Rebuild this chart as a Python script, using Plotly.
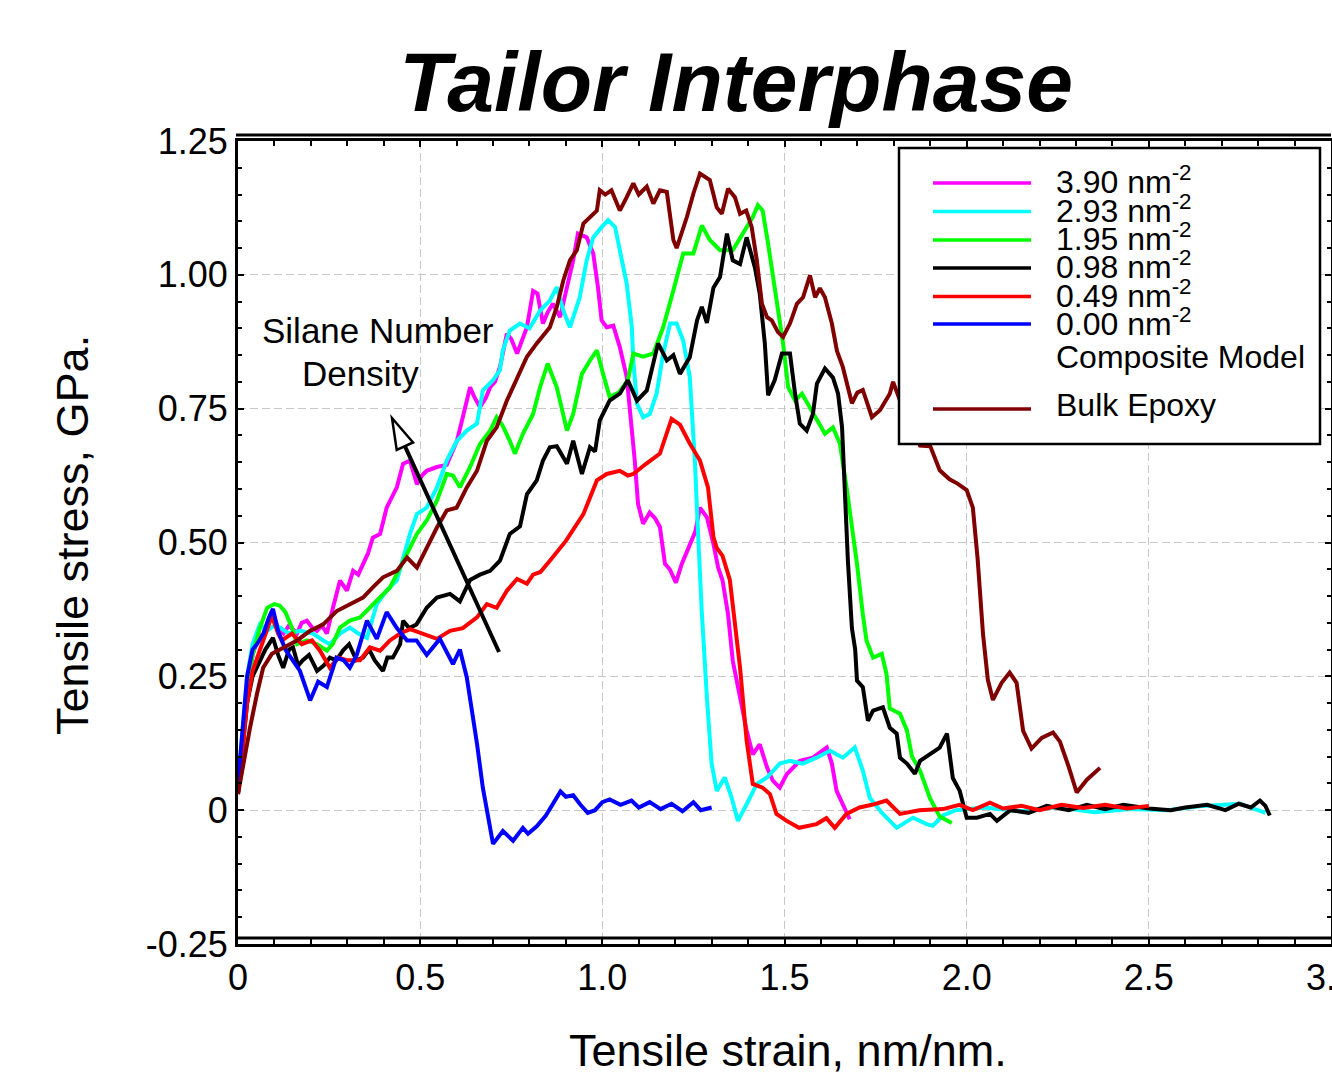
import math
import plotly.graph_objects as go

# ---------------- data ----------------
series_names = ["3.90 nm<sup>-2</sup>", "2.93 nm<sup>-2</sup>", "1.95 nm<sup>-2</sup>",
                "0.98 nm<sup>-2</sup>", "0.49 nm<sup>-2</sup>", "0.00 nm<sup>-2</sup>",
                "Composite Model", "Bulk Epoxy"]

mag_x = [0, 0.012, 0.025, 0.04, 0.055, 0.07, 0.093, 0.11, 0.125, 0.14, 0.162, 0.175, 0.189, 0.205, 0.217, 0.23, 0.244, 0.261, 0.28, 0.299, 0.316, 0.33, 0.343, 0.357, 0.37, 0.39, 0.408, 0.42, 0.436, 0.453, 0.472, 0.491, 0.505, 0.518, 0.546, 0.573, 0.601, 0.617, 0.637, 0.65, 0.664, 0.68, 0.692, 0.705, 0.719, 0.738, 0.75, 0.766, 0.78, 0.793, 0.81, 0.822, 0.837, 0.85, 0.864, 0.884, 0.903, 0.92, 0.933, 0.957, 0.975, 0.988, 0.998, 1.012, 1.03, 1.048, 1.067, 1.081, 1.089, 1.098, 1.112, 1.13, 1.145, 1.158, 1.172, 1.185, 1.202, 1.218, 1.24, 1.255, 1.268, 1.287, 1.305, 1.318, 1.33, 1.345, 1.358, 1.378, 1.396, 1.413, 1.432, 1.452, 1.468, 1.487, 1.506, 1.542, 1.578, 1.616, 1.63, 1.643, 1.666, 1.679]
mag_y = [0.04, 0.13, 0.22, 0.29, 0.32, 0.33, 0.372, 0.34, 0.33, 0.345, 0.33, 0.35, 0.354, 0.34, 0.335, 0.345, 0.33, 0.379, 0.429, 0.41, 0.447, 0.44, 0.46, 0.48, 0.509, 0.516, 0.565, 0.58, 0.603, 0.647, 0.653, 0.609, 0.625, 0.634, 0.641, 0.645, 0.69, 0.734, 0.79, 0.77, 0.753, 0.77, 0.79, 0.8, 0.828, 0.89, 0.88, 0.853, 0.88, 0.902, 0.97, 0.965, 0.909, 0.93, 0.946, 0.921, 0.977, 1.027, 1.077, 1.07, 1.04, 0.977, 0.915, 0.902, 0.905, 0.865, 0.809, 0.715, 0.653, 0.572, 0.535, 0.556, 0.545, 0.529, 0.46, 0.45, 0.425, 0.46, 0.497, 0.52, 0.565, 0.547, 0.497, 0.453, 0.429, 0.366, 0.279, 0.21, 0.149, 0.104, 0.123, 0.08, 0.055, 0.042, 0.067, 0.092, 0.098, 0.117, 0.087, 0.036, 0.004, -0.017]

cya_x = [0, 0.012, 0.025, 0.04, 0.06, 0.08, 0.1, 0.115, 0.14, 0.17, 0.206, 0.234, 0.252, 0.28, 0.307, 0.33, 0.354, 0.381, 0.408, 0.436, 0.453, 0.472, 0.491, 0.518, 0.546, 0.573, 0.601, 0.628, 0.656, 0.672, 0.7, 0.719, 0.727, 0.746, 0.774, 0.8, 0.829, 0.856, 0.875, 0.893, 0.911, 0.938, 0.957, 0.975, 0.998, 1.016, 1.035, 1.048, 1.067, 1.081, 1.085, 1.095, 1.112, 1.13, 1.149, 1.167, 1.186, 1.204, 1.222, 1.24, 1.254, 1.262, 1.273, 1.287, 1.3, 1.314, 1.336, 1.355, 1.372, 1.396, 1.424, 1.452, 1.487, 1.515, 1.55, 1.588, 1.625, 1.66, 1.693, 1.715, 1.734, 1.77, 1.808, 1.853, 1.89, 1.907, 1.935, 1.97, 2.05, 2.15, 2.25, 2.35, 2.45, 2.55, 2.65, 2.75, 2.82]
cya_y = [0.05, 0.15, 0.25, 0.31, 0.347, 0.335, 0.345, 0.341, 0.33, 0.335, 0.33, 0.317, 0.31, 0.33, 0.341, 0.33, 0.322, 0.385, 0.41, 0.429, 0.472, 0.516, 0.553, 0.565, 0.603, 0.653, 0.69, 0.709, 0.722, 0.784, 0.803, 0.822, 0.859, 0.896, 0.909, 0.9, 0.933, 0.952, 0.977, 0.933, 0.902, 0.958, 1.027, 1.07, 1.089, 1.102, 1.089, 1.046, 0.983, 0.902, 0.84, 0.759, 0.734, 0.74, 0.778, 0.853, 0.909, 0.909, 0.877, 0.809, 0.653, 0.528, 0.37, 0.21, 0.087, 0.036, 0.061, 0.023, -0.02, 0.011, 0.049, 0.061, 0.087, 0.092, 0.087, 0.098, 0.111, 0.098, 0.117, 0.074, 0.023, -0.007, -0.033, -0.014, -0.026, -0.029, -0.01, 0.0, 0.005, -0.002, 0.006, -0.004, 0.002, 0.0, 0.008, 0.012, -0.005]

grn_x = [0, 0.012, 0.025, 0.04, 0.06, 0.08, 0.1, 0.115, 0.13, 0.148, 0.162, 0.189, 0.217, 0.244, 0.26, 0.28, 0.307, 0.335, 0.362, 0.39, 0.417, 0.445, 0.464, 0.491, 0.518, 0.546, 0.573, 0.59, 0.609, 0.637, 0.664, 0.692, 0.71, 0.725, 0.746, 0.76, 0.782, 0.81, 0.829, 0.85, 0.875, 0.903, 0.92, 0.944, 0.966, 0.985, 1.002, 1.02, 1.045, 1.07, 1.085, 1.112, 1.14, 1.167, 1.195, 1.222, 1.25, 1.273, 1.295, 1.323, 1.358, 1.386, 1.413, 1.427, 1.44, 1.455, 1.468, 1.482, 1.496, 1.51, 1.529, 1.548, 1.57, 1.592, 1.611, 1.633, 1.652, 1.671, 1.688, 1.699, 1.715, 1.725, 1.743, 1.767, 1.78, 1.789, 1.817, 1.836, 1.85, 1.872, 1.899, 1.926, 1.959]
grn_y = [0.04, 0.13, 0.22, 0.29, 0.34, 0.378, 0.385, 0.382, 0.37, 0.341, 0.31, 0.317, 0.31, 0.298, 0.31, 0.341, 0.354, 0.36, 0.378, 0.397, 0.416, 0.453, 0.478, 0.516, 0.541, 0.578, 0.628, 0.625, 0.603, 0.641, 0.684, 0.709, 0.734, 0.72, 0.69, 0.666, 0.703, 0.74, 0.79, 0.834, 0.79, 0.709, 0.74, 0.815, 0.84, 0.859, 0.815, 0.772, 0.78, 0.803, 0.853, 0.847, 0.853, 0.902, 0.971, 1.04, 1.04, 1.092, 1.065, 1.046, 1.046, 1.077, 1.108, 1.13, 1.12, 1.058, 0.996, 0.933, 0.872, 0.79, 0.765, 0.778, 0.753, 0.728, 0.703, 0.715, 0.685, 0.6, 0.52, 0.46, 0.366, 0.317, 0.285, 0.292, 0.254, 0.19, 0.18, 0.149, 0.1, 0.074, 0.023, -0.012, -0.024]

blk_x = [0, 0.012, 0.025, 0.04, 0.06, 0.075, 0.096, 0.11, 0.124, 0.14, 0.151, 0.165, 0.178, 0.195, 0.217, 0.235, 0.252, 0.27, 0.288, 0.305, 0.325, 0.343, 0.36, 0.375, 0.398, 0.41, 0.425, 0.445, 0.453, 0.47, 0.49, 0.518, 0.546, 0.582, 0.609, 0.637, 0.664, 0.692, 0.719, 0.746, 0.774, 0.793, 0.82, 0.837, 0.856, 0.875, 0.903, 0.92, 0.944, 0.966, 0.98, 0.993, 1.02, 1.048, 1.07, 1.095, 1.122, 1.153, 1.177, 1.195, 1.213, 1.24, 1.26, 1.273, 1.287, 1.305, 1.323, 1.342, 1.358, 1.378, 1.396, 1.419, 1.432, 1.446, 1.455, 1.473, 1.493, 1.515, 1.529, 1.542, 1.561, 1.578, 1.589, 1.611, 1.633, 1.647, 1.658, 1.666, 1.674, 1.685, 1.694, 1.699, 1.715, 1.729, 1.743, 1.77, 1.789, 1.808, 1.817, 1.836, 1.858, 1.872, 1.899, 1.926, 1.946, 1.962, 1.981, 2.0, 2.028, 2.064, 2.083, 2.12, 2.17, 2.22, 2.28, 2.33, 2.38, 2.43, 2.5, 2.56, 2.6, 2.66, 2.71, 2.747, 2.78, 2.805, 2.82, 2.832]
blk_y = [0.03, 0.11, 0.2, 0.25, 0.28, 0.3, 0.322, 0.29, 0.266, 0.3, 0.304, 0.27, 0.28, 0.29, 0.26, 0.27, 0.285, 0.28, 0.298, 0.31, 0.28, 0.285, 0.3, 0.28, 0.26, 0.285, 0.285, 0.31, 0.354, 0.34, 0.347, 0.378, 0.397, 0.404, 0.39, 0.43, 0.44, 0.447, 0.466, 0.516, 0.53, 0.59, 0.616, 0.653, 0.678, 0.68, 0.647, 0.69, 0.628, 0.678, 0.67, 0.728, 0.765, 0.778, 0.803, 0.765, 0.784, 0.872, 0.84, 0.85, 0.815, 0.846, 0.915, 0.94, 0.91, 0.976, 0.996, 1.077, 1.027, 1.02, 1.07, 1.013, 0.965, 0.872, 0.775, 0.803, 0.853, 0.853, 0.778, 0.722, 0.709, 0.74, 0.797, 0.825, 0.808, 0.778, 0.715, 0.59, 0.466, 0.34, 0.3, 0.242, 0.23, 0.167, 0.186, 0.192, 0.154, 0.143, 0.098, 0.087, 0.068, 0.092, 0.104, 0.117, 0.143, 0.06, 0.036, -0.014, -0.014, -0.007, -0.02, 0.0, -0.005, 0.008, 0.0, 0.01, 0.002, 0.01, 0.003, 0.0, 0.005, 0.01, 0.0, 0.012, 0.005, 0.018, 0.008, -0.01]

red_x = [0, 0.012, 0.025, 0.04, 0.06, 0.075, 0.093, 0.11, 0.12, 0.148, 0.175, 0.203, 0.225, 0.252, 0.275, 0.298, 0.335, 0.362, 0.39, 0.417, 0.445, 0.472, 0.508, 0.546, 0.582, 0.617, 0.656, 0.683, 0.71, 0.738, 0.766, 0.793, 0.81, 0.83, 0.856, 0.9, 0.948, 0.985, 1.012, 1.048, 1.07, 1.085, 1.12, 1.158, 1.19, 1.213, 1.24, 1.268, 1.29, 1.305, 1.314, 1.33, 1.35, 1.378, 1.396, 1.413, 1.44, 1.46, 1.478, 1.506, 1.54, 1.588, 1.615, 1.638, 1.67, 1.706, 1.74, 1.78, 1.817, 1.87, 1.935, 1.98, 2.017, 2.064, 2.1, 2.15, 2.2, 2.26, 2.32, 2.38, 2.44, 2.5]
red_y = [0.03, 0.12, 0.2, 0.26, 0.3, 0.33, 0.363, 0.33, 0.317, 0.33, 0.31, 0.317, 0.298, 0.266, 0.285, 0.28, 0.28, 0.304, 0.298, 0.317, 0.33, 0.338, 0.33, 0.32, 0.335, 0.34, 0.36, 0.385, 0.378, 0.41, 0.432, 0.423, 0.44, 0.445, 0.466, 0.503, 0.553, 0.616, 0.628, 0.634, 0.625, 0.628, 0.647, 0.666, 0.731, 0.72, 0.685, 0.653, 0.603, 0.51, 0.49, 0.475, 0.43, 0.266, 0.13, 0.049, 0.042, 0.03, -0.007, -0.02, -0.033, -0.026, -0.015, -0.033, -0.007, 0.005, 0.01, 0.018, -0.007, 0.0, 0.002, 0.01, 0.0, 0.014, 0.003, 0.008, 0.0, 0.01, 0.004, 0.01, 0.003, 0.008]

blu_x = [0, 0.012, 0.025, 0.04, 0.052, 0.07, 0.085, 0.096, 0.11, 0.13, 0.15, 0.17, 0.198, 0.22, 0.244, 0.27, 0.29, 0.307, 0.326, 0.354, 0.381, 0.408, 0.436, 0.464, 0.49, 0.518, 0.554, 0.59, 0.609, 0.628, 0.656, 0.672, 0.7, 0.727, 0.755, 0.782, 0.796, 0.82, 0.845, 0.87, 0.885, 0.9, 0.92, 0.94, 0.96, 0.98, 1.0, 1.02, 1.05, 1.08, 1.1, 1.13, 1.16, 1.19, 1.22, 1.25, 1.27, 1.3]
blu_y = [0.05, 0.15, 0.25, 0.3, 0.31, 0.33, 0.36, 0.376, 0.335, 0.3, 0.28, 0.26, 0.205, 0.24, 0.23, 0.285, 0.28, 0.266, 0.29, 0.354, 0.32, 0.37, 0.34, 0.317, 0.317, 0.29, 0.32, 0.273, 0.3, 0.248, 0.124, 0.042, -0.063, -0.039, -0.057, -0.033, -0.044, -0.03, -0.01, 0.02, 0.035, 0.025, 0.028, 0.01, -0.005, 0.0, 0.015, 0.02, 0.01, 0.018, 0.005, 0.015, 0.002, 0.012, -0.002, 0.015, 0.0, 0.005]

bulk_x = [0, 0.015, 0.033, 0.052, 0.069, 0.093, 0.124, 0.162, 0.198, 0.234, 0.271, 0.307, 0.343, 0.37, 0.398, 0.436, 0.464, 0.491, 0.518, 0.546, 0.573, 0.6, 0.628, 0.656, 0.683, 0.71, 0.738, 0.766, 0.793, 0.82, 0.856, 0.875, 0.893, 0.911, 0.93, 0.948, 0.966, 0.985, 0.993, 1.008, 1.025, 1.048, 1.067, 1.085, 1.1, 1.122, 1.14, 1.158, 1.177, 1.195, 1.204, 1.232, 1.25, 1.268, 1.295, 1.314, 1.328, 1.345, 1.364, 1.378, 1.395, 1.41, 1.424, 1.438, 1.452, 1.465, 1.482, 1.496, 1.515, 1.534, 1.551, 1.57, 1.584, 1.597, 1.611, 1.63, 1.644, 1.66, 1.685, 1.7, 1.715, 1.74, 1.762, 1.789, 1.798, 1.82, 1.84, 1.86, 1.872, 1.9, 1.926, 1.953, 1.975, 2.0, 2.017, 2.03, 2.045, 2.058, 2.072, 2.096, 2.118, 2.137, 2.155, 2.178, 2.206, 2.237, 2.256, 2.279, 2.302, 2.33, 2.366]
bulk_y = [0.03, 0.09, 0.154, 0.217, 0.266, 0.292, 0.304, 0.317, 0.335, 0.347, 0.372, 0.385, 0.397, 0.416, 0.435, 0.447, 0.472, 0.453, 0.49, 0.528, 0.56, 0.565, 0.603, 0.634, 0.69, 0.715, 0.765, 0.809, 0.847, 0.872, 0.902, 0.94, 0.99, 1.027, 1.046, 1.096, 1.108, 1.12, 1.158, 1.15, 1.158, 1.12, 1.145, 1.171, 1.15, 1.165, 1.133, 1.158, 1.155, 1.065, 1.05, 1.108, 1.152, 1.189, 1.177, 1.126, 1.114, 1.161, 1.145, 1.114, 1.12, 1.089, 1.027, 0.946, 0.921, 0.915, 0.893, 0.884, 0.909, 0.946, 0.958, 0.999, 0.958, 0.975, 0.958, 0.909, 0.858, 0.828, 0.76, 0.78, 0.785, 0.734, 0.747, 0.778, 0.8, 0.76, 0.74, 0.7, 0.681, 0.68, 0.635, 0.618, 0.61, 0.598, 0.565, 0.47, 0.328, 0.244, 0.206, 0.238, 0.257, 0.238, 0.148, 0.115, 0.135, 0.145, 0.128, 0.083, 0.033, 0.057, 0.079]

colors = ["#FF00FF", "#00FFFF", "#00FF00", "#000000", "#FF0000", "#0000FF", None, "#800000"]

x_ticks = [0, 0.5, 1.0, 1.5, 2.0, 2.5, 3.0]
x_ticktext = ["0", "0.5", "1.0", "1.5", "2.0", "2.5", "3.0"]
y_ticks = [-0.25, 0, 0.25, 0.5, 0.75, 1.0, 1.25]
y_ticktext = ["-0.25", "0", "0.25", "0.50", "0.75", "1.00", "1.25"]

# ---------------- layout geometry (pixels) ----------------
FW, FH = 1332, 1081
L, R, T, B = 238, 1331, 141, 944
PW, PH = R - L, B - T
FONT = "Liberation Sans, Arial, sans-serif"


def px(x):
    return (x - L) / PW


def py(y):
    return (B - y) / PH


fig = go.Figure()
data = [(mag_x, mag_y), (cya_x, cya_y), (grn_x, grn_y), (blk_x, blk_y),
        (red_x, red_y), (blu_x, blu_y), None, (bulk_x, bulk_y)]
for name, d, c in zip(series_names, data, colors):
    if d is None:
        continue
    fig.add_trace(go.Scatter(x=d[0], y=d[1], mode="lines", name=name,
                             line=dict(color=c, width=4), showlegend=False,
                             hoverinfo="skip"))

shapes = []
annotations = []

# extra frame lines (double border look)
shapes.append(dict(type="line", xref="paper", yref="paper", x0=0, x1=1,
                   y0=py(938), y1=py(938), line=dict(color="black", width=3)))
shapes.append(dict(type="line", xref="paper", yref="paper", x0=px(236), x1=1,
                   y0=py(135), y1=py(135), line=dict(color="black", width=3)))

# arrow (Silane Number Density)
tail = (499, 652)
tip = (392, 418)
dx, dy = tip[0] - tail[0], tip[1] - tail[1]
ln = math.hypot(dx, dy)
ux, uy = dx / ln, dy / ln
nx, ny = -uy, ux
hl, hw = 31, 9
bx, by = tip[0] - hl * ux, tip[1] - hl * uy
shapes.append(dict(type="line", xref="paper", yref="paper",
                   x0=px(tail[0]), y0=py(tail[1]), x1=px(bx), y1=py(by),
                   line=dict(color="black", width=4)))
c1 = (bx + hw * nx, by + hw * ny)
c2 = (bx - hw * nx, by - hw * ny)
path = "M {} {} L {} {} L {} {} Z".format(px(tip[0]), py(tip[1]), px(c1[0]), py(c1[1]),
                                          px(c2[0]), py(c2[1]))
shapes.append(dict(type="path", xref="paper", yref="paper", path=path,
                   fillcolor="white", line=dict(color="black", width=2.5)))

annotations.append(dict(text="Silane Number", x=px(378), y=py(331), xref="paper", yref="paper",
                        showarrow=False, xanchor="center", yanchor="middle",
                        font=dict(family=FONT, size=35, color="black")))
annotations.append(dict(text="Density", x=px(360), y=py(373), xref="paper", yref="paper",
                        showarrow=False, xanchor="center", yanchor="middle",
                        font=dict(family=FONT, size=35, color="black")))

# legend box drawn by hand
shapes.append(dict(type="rect", xref="paper", yref="paper", x0=px(899), x1=px(1320),
                   y0=py(444), y1=py(148), fillcolor="white",
                   line=dict(color="black", width=2.5), layer="above"))
line_ys = [183, 211.5, 240, 268, 296.5, 324, None, 409]
text_ys = [180, 208.5, 237, 265, 293.5, 322, 357, 405]
for name, c, ly, ty in zip(series_names, colors, line_ys, text_ys):
    if ly is not None:
        shapes.append(dict(type="line", xref="paper", yref="paper", x0=px(933), x1=px(1031),
                           y0=py(ly), y1=py(ly), line=dict(color=c, width=3.5), layer="above"))
    annotations.append(dict(text=name, x=px(1054), y=py(ty), xref="paper", yref="paper",
                            showarrow=False, xanchor="left", yanchor="middle",
                            font=dict(family=FONT, size=32, color="black")))

# axis titles
annotations.append(dict(text="Tensile strain, nm/nm.", x=px(788), y=py(1050),
                        xref="paper", yref="paper", showarrow=False,
                        xanchor="center", yanchor="middle",
                        font=dict(family=FONT, size=45, color="black")))
annotations.append(dict(text="Tensile stress, GPa.", x=px(72), y=py(535),
                        xref="paper", yref="paper", showarrow=False, textangle=-90,
                        xanchor="center", yanchor="middle",
                        font=dict(family=FONT, size=45, color="black")))

axis_common = dict(showline=True, linecolor="black", linewidth=3, mirror="allticks",
                   ticks="inside", ticklen=6, tickwidth=2, tickcolor="black",
                   showgrid=True, gridcolor="#c8c8c8", gridwidth=1, griddash="8px,4px",
                   zeroline=False, ticklabeloverflow="allow", automargin=False,
                   tickfont=dict(family=FONT, size=36, color="black"))

fig.update_layout(
    width=FW, height=FH,
    margin=dict(l=L, r=FW - R, t=T, b=FH - B, pad=0, autoexpand=False),
    paper_bgcolor="white", plot_bgcolor="white",
    title=dict(text="<b><i>Tailor Interphase</i></b>", x=736 / FW, xanchor="center",
               y=1 - 82 / FH, yanchor="middle",
               font=dict(family=FONT, size=84, color="black")),
    xaxis=dict(range=[0, 3], tickvals=x_ticks, ticktext=x_ticktext,
               minor=dict(dtick=0.1, tick0=0, ticks="inside", ticklen=5, tickwidth=2,
                          tickcolor="black", showgrid=False),
               **axis_common),
    yaxis=dict(range=[-0.25, 1.25], tickvals=y_ticks, ticktext=y_ticktext,
               minor=dict(dtick=0.05, tick0=0, ticks="inside", ticklen=4, tickwidth=2,
                          tickcolor="black", showgrid=False),
               **axis_common),
    shapes=shapes, annotations=annotations, showlegend=False,
)

fig.write_html("out.html")
